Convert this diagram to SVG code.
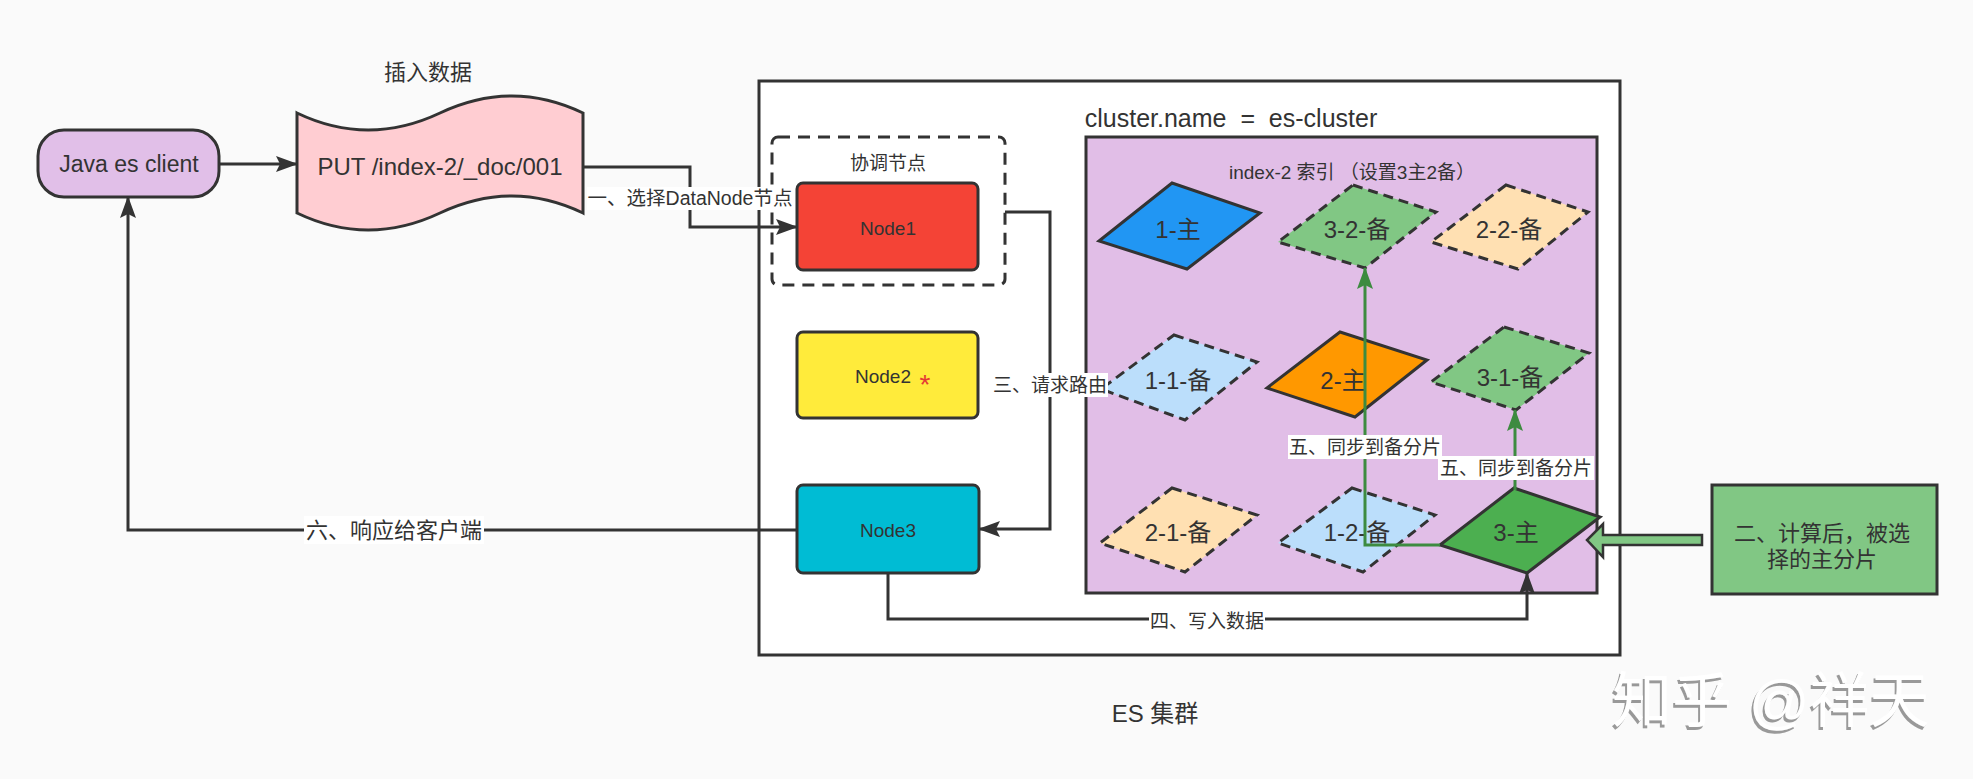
<svg xmlns="http://www.w3.org/2000/svg" width="1973" height="779" viewBox="0 0 1973 779">
<style>
text{font-family:"Liberation Sans","Noto Sans CJK SC",sans-serif;fill:#333;}
.c{text-anchor:middle;dominant-baseline:central;}
.ln{fill:none;stroke:#333;stroke-width:3;}
.gl{fill:none;stroke:#3d8b40;stroke-width:3;}
.nd{stroke:#333;stroke-width:3;}
.ds{stroke:#333;stroke-width:3;stroke-dasharray:10 6;}
.lb{fill:#fff;}
</style>
<defs>
<marker id="ah" markerUnits="userSpaceOnUse" viewBox="0 0 22 16" markerWidth="22" markerHeight="16" refX="21" refY="8" orient="auto">
<path d="M0,0 L22,8 L0,16 L4,8 z" fill="#333"/>
</marker>
<marker id="ag" markerUnits="userSpaceOnUse" viewBox="0 0 22 16" markerWidth="22" markerHeight="16" refX="21" refY="8" orient="auto">
<path d="M0,0 L22,8 L0,16 L4,8 z" fill="#3d8b40"/>
</marker>
<filter id="sh" x="-10%" y="-10%" width="120%" height="130%">
<feDropShadow dx="-2" dy="3" stdDeviation="0.6" flood-color="#999"/>
</filter>
</defs>
<rect x="0" y="0" width="1973" height="779" fill="#fafafa"/>

<g id="cluster">
<rect x="759" y="81" width="861" height="574" fill="#fff" stroke="#333" stroke-width="3"/>
<text class="c" x="1155" y="713" font-size="24">ES 集群</text>
<text class="c" x="1231" y="118" font-size="25">cluster.name&#160;&#160;=&#160;&#160;es-cluster</text>
</g>

<g id="title">
<text class="c" x="428" y="72" font-size="22">插入数据</text>
</g>

<g id="java-client">
<rect x="38" y="130" width="181" height="67" rx="26" ry="26" fill="#e1bfe8" class="nd"/>
<text class="c" x="129" y="164" font-size="23">Java es client</text>
</g>

<g id="put-doc">
<path d="M297,113 Q368,147 440,113 T583,113 L583,213 Q512,179 440,213 T297,213 Z" fill="#ffcdd2" class="nd"/>
<text class="c" x="440" y="166" font-size="24">PUT /index-2/_doc/001</text>
</g>

<g id="coordinator">
<rect x="772" y="137" width="233" height="148" rx="6" fill="none" stroke="#333" stroke-width="3" stroke-dasharray="12 8"/>
<text class="c" x="888" y="163" font-size="19">协调节点</text>
</g>

<g id="node1">
<rect x="797" y="183" width="181" height="87" rx="6" fill="#f44336" class="nd"/>
<text class="c" x="888" y="228" font-size="19">Node1</text>
</g>

<g id="node2">
<rect x="797" y="332" width="181" height="86" rx="6" fill="#ffeb3b" class="nd"/>
<text class="c" x="883" y="376" font-size="19">Node2</text>
<text class="c" x="925" y="384" font-size="28" style="fill:#e53935">*</text>
</g>

<g id="node3">
<rect x="797" y="485" width="182" height="88" rx="6" fill="#00bcd4" class="nd"/>
<text class="c" x="888" y="530" font-size="19">Node3</text>
</g>

<g id="index-2">
<rect x="1086" y="137" width="511" height="456" fill="#e1bee7" stroke="#333" stroke-width="3"/>
<text class="c" x="1352" y="172" font-size="19">index-2 索引 （设置3主2备）</text>
</g>

<g id="s1-primary">
<polygon points="1172,183 1260,213 1187,269 1099,241" fill="#2196f3" class="nd"/>
<text class="c" x="1178" y="229" font-size="24">1-主</text>
</g>
<g id="s3-2-replica">
<polygon points="1353,185 1436,212 1365,268 1278,242" fill="#81c784" class="ds"/>
<text class="c" x="1357" y="229" font-size="24">3-2-备</text>
</g>
<g id="s2-2-replica">
<polygon points="1506,185 1588,212 1518,269 1431,242" fill="#ffe0b2" class="ds"/>
<text class="c" x="1509" y="229" font-size="24">2-2-备</text>
</g>
<g id="s1-1-replica">
<polygon points="1174,335 1257,362 1185,420 1101,389" fill="#bbdefb" class="ds"/>
<text class="c" x="1178" y="380" font-size="24">1-1-备</text>
</g>
<g id="s2-primary">
<polygon points="1340,332 1427,360 1355,417 1267,388" fill="#ff9800" class="nd"/>
<text class="c" x="1343" y="380" font-size="24">2-主</text>
</g>
<g id="s3-1-replica">
<polygon points="1504,327 1589,353 1516,410 1431,382" fill="#81c784" class="ds"/>
<text class="c" x="1510" y="377" font-size="24">3-1-备</text>
</g>
<g id="s2-1-replica">
<polygon points="1172,488 1257,515 1185,572 1100,543" fill="#ffe0b2" class="ds"/>
<text class="c" x="1178" y="532" font-size="24">2-1-备</text>
</g>
<g id="s1-2-replica">
<polygon points="1352,488 1435,515 1363,572 1278,543" fill="#bbdefb" class="ds"/>
<text class="c" x="1357" y="532" font-size="24">1-2-备</text>
</g>
<g id="s3-primary">
<polygon points="1514,488 1600,517 1527,573 1440,545" fill="#4caf50" class="nd"/>
<text class="c" x="1516" y="532" font-size="24">3-主</text>
</g>

<g id="selected-note">
<rect x="1712" y="485" width="225" height="109" fill="#81c784" class="nd"/>
<text class="c" x="1822" y="533" font-size="22">二、计算后，被选</text>
<text class="c" x="1822" y="559" font-size="22">择的主分片</text>
</g>

<g id="connectors">
<path class="ln" d="M219,164 L297,164" marker-end="url(#ah)"/>
<path class="ln" d="M583,167 L690,167 L690,227 L797,227" marker-end="url(#ah)"/>
<rect class="lb" x="587" y="187" width="206" height="23"/>
<text class="c" x="690" y="198" font-size="19.5">一、选择DataNode节点</text>

<path class="ln" d="M1005,212 L1050,212 L1050,529 L979,529" marker-end="url(#ah)"/>
<rect class="lb" x="992" y="373" width="116" height="24"/>
<text class="c" x="1050" y="385" font-size="19">三、请求路由</text>

<path class="ln" d="M888,573 L888,619 L1527,619 L1527,573" marker-end="url(#ah)"/>
<rect class="lb" x="1149" y="608" width="116" height="24"/>
<text class="c" x="1207" y="621" font-size="19">四、写入数据</text>

<path class="ln" d="M797,530 L128,530 L128,197" marker-end="url(#ah)"/>
<rect class="lb" x="304" y="516" width="180" height="28"/>
<text class="c" x="394" y="530" font-size="22">六、响应给客户端</text>

<path class="gl" d="M1440,545 L1365,545 L1365,268" marker-end="url(#ag)"/>
<rect class="lb" x="1288" y="435" width="154" height="24"/>
<text class="c" x="1365" y="447" font-size="19">五、同步到备分片</text>

<path class="gl" d="M1515,490 L1515,410" marker-end="url(#ag)"/>
<rect class="lb" x="1438" y="456" width="156" height="24"/>
<text class="c" x="1516" y="468" font-size="19">五、同步到备分片</text>

<polygon points="1702,535 1603,535 1603,524 1587,540 1603,557 1603,545 1702,545" fill="#81c784" stroke="#333" stroke-width="2.5" stroke-linejoin="miter"/>
</g>

<g id="watermark">
<text x="1612" y="722" font-size="60" style="fill:#fff" filter="url(#sh)">知乎 @祥天</text>
</g>
</svg>
